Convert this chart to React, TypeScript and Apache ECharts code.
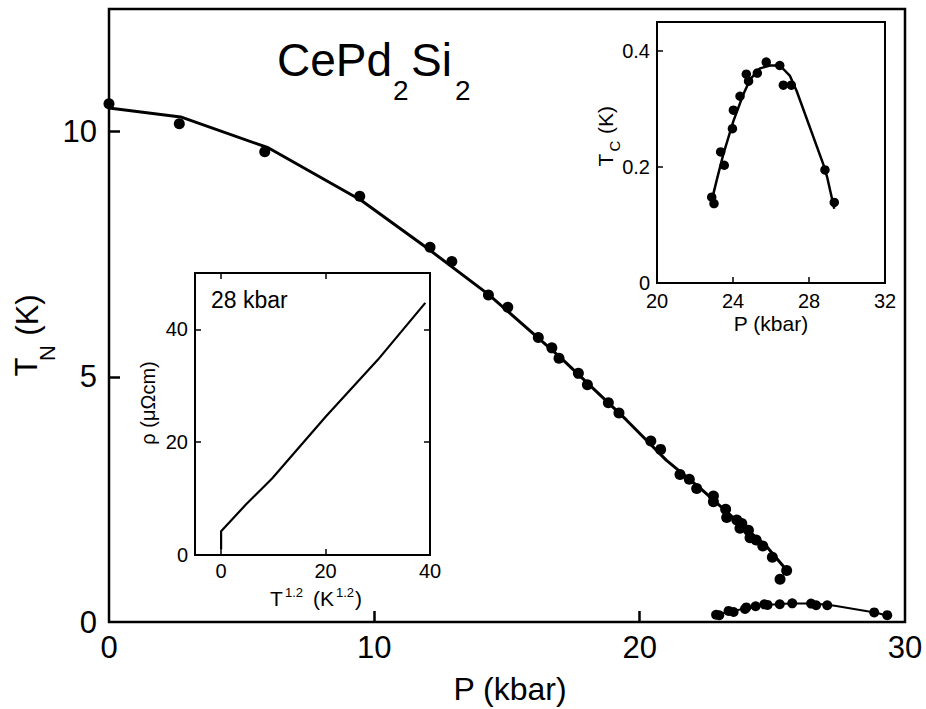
import React, { useEffect, useRef } from "react";
import * as echarts from "echarts";

// Main panel: Neel temperature T_N vs pressure
const mainP = [0, 2.65, 5.87, 9.45, 12.1, 12.92, 14.3, 15.03, 16.18, 16.69, 16.96, 17.69, 18.03, 18.82, 19.22, 20.42, 20.79, 21.52, 21.87, 22.15, 22.78, 22.78, 23.24, 23.28, 23.66, 23.85, 23.78, 24.1, 24.16, 24.39, 24.64, 25.0, 25.54, 25.29];
const mainTN = [10.57, 10.16, 9.59, 8.68, 7.64, 7.35, 6.67, 6.42, 5.8, 5.59, 5.38, 5.07, 4.84, 4.47, 4.26, 3.69, 3.52, 3.01, 2.91, 2.72, 2.57, 2.45, 2.3, 2.13, 2.08, 2.01, 1.91, 1.87, 1.72, 1.67, 1.55, 1.32, 1.05, 0.87];
const fitTNP = [0, 2.7, 6.0, 9.5, 12.0, 14.3, 17.0, 19.5, 21.0, 22.3, 23.5, 24.8, 25.55];
const fitTN = [10.48, 10.3, 9.67, 8.6, 7.62, 6.68, 5.4, 4.12, 3.3, 2.72, 2.14, 1.53, 1.05];

// Superconducting Tc vs pressure (inset and main)
const tcP = [22.88, 23.0, 23.35, 23.54, 23.97, 24.02, 24.37, 24.7, 24.82, 25.28, 25.75, 26.46, 26.65, 27.07, 28.84, 29.33];
const tcK = [0.148, 0.137, 0.226, 0.203, 0.266, 0.298, 0.322, 0.36, 0.348, 0.362, 0.381, 0.375, 0.341, 0.341, 0.195, 0.139];
const fitTcP = [22.88, 23.14, 23.49, 24.02, 24.54, 24.9, 25.42, 25.95, 26.47, 27.0, 27.35, 28.75, 28.96, 29.33];
const fitTc = [0.142, 0.177, 0.222, 0.279, 0.325, 0.351, 0.37, 0.375, 0.375, 0.357, 0.331, 0.205, 0.182, 0.128];

// Resistivity inset at 28 kbar
const rhoT12 = [0, 0, 0.8, 4.7, 9.8, 20.1, 30.0, 39.1];
const rhoVal = [1, 4.2, 5.0, 8.9, 13.6, 24.6, 34.6, 44.7];

// Tick values
const mainXTicks = [10, 20];
const mainXLabels = [0, 10, 20, 30];
const mainYTicks = [5, 10];
const mainYLabels = [0, 5, 10];
const tcXTicks = [24, 28];
const tcXLabels = [20, 24, 28, 32];
const tcYTicks = [0.2, 0.4];
const tcYLabels = [0, 0.2, 0.4];
const rhoXTicks = [0, 20];
const rhoXLabels = [0, 20, 40];
const rhoYTicks = [20, 40];
const rhoYLabels = [0, 20, 40];

const FONT = "'Liberation Sans', Arial, Helvetica, sans-serif";

const zip = (a: number[], b: number[]) => a.map((v, i) => [v, b[i]]);

function axis(
  gridIndex: number,
  min: number,
  max: number,
  ticks: number[],
  labels: number[] | null,
  fontSize: number,
  margin: number,
  tickLen: number,
  tickW: number,
  position?: string
) {
  return {
    type: "value",
    gridIndex,
    min,
    max,
    position,
    axisLine: { show: false, onZero: false },
    splitLine: { show: false },
    axisTick: {
      show: true,
      inside: true,
      length: tickLen,
      customValues: ticks,
      lineStyle: { color: "#000", width: tickW },
    },
    axisLabel: labels
      ? {
          show: true,
          customValues: labels,
          fontSize,
          fontFamily: FONT,
          color: "#000",
          margin,
        }
      : { show: false },
  };
}

function txt(
  text: string,
  x: number,
  y: number,
  fontSize: number,
  align: string = "center",
  rotate = false
) {
  return {
    type: "text",
    x,
    y,
    rotation: rotate ? Math.PI / 2 : 0,
    z: 100,
    style: {
      text,
      fontSize,
      fontFamily: FONT,
      fill: "#000",
      align,
      verticalAlign: "middle",
      textAlign: align,
      textVerticalAlign: "middle",
    },
  };
}

export default function App() {
  const ref = useRef<HTMLDivElement>(null);
  useEffect(() => {
    if (!ref.current) return;
    const chart = echarts.init(ref.current, undefined, { renderer: "svg" });
    const dot = { color: "#000", opacity: 1 };
    const option = {
      animation: false,
      backgroundColor: "#fff",
      grid: [
        { left: 109, top: 9, width: 796, height: 613, show: true, borderColor: "#000", borderWidth: 2.5, backgroundColor: "transparent" },
        { left: 657, top: 22, width: 228, height: 261, show: true, borderColor: "#000", borderWidth: 2, backgroundColor: "#fff" },
        { left: 195, top: 273, width: 235, height: 282, show: true, borderColor: "#000", borderWidth: 2, backgroundColor: "#fff" },
      ],
      xAxis: [
        axis(0, 0, 30, mainXTicks, mainXLabels, 31, 10, 11, 2.5, "bottom"),
        axis(1, 20, 32, tcXTicks, tcXLabels, 20, 8, 6, 1.5, "bottom"),
        axis(2, -5, 40, rhoXTicks, rhoXLabels, 20, 6, 6, 1.5, "bottom"),
        axis(2, -5, 40, rhoXTicks, null, 20, 6, 6, 1.5, "top"),
      ],
      yAxis: [
        axis(0, 0, 12.5, mainYTicks, mainYLabels, 31, 12, 11, 2.5, "left"),
        axis(1, 0, 0.45, tcYTicks, tcYLabels, 20, 7, 6, 1.5, "left"),
        axis(2, 0, 50, rhoYTicks, rhoYLabels, 20, 7, 6, 1.5, "left"),
        axis(2, 0, 50, rhoYTicks, null, 20, 7, 6, 1.5, "right"),
      ],
      series: [
        {
          type: "line",
          xAxisIndex: 0,
          yAxisIndex: 0,
          data: zip(fitTNP, fitTN),
          showSymbol: false,
          lineStyle: { color: "#000", width: 3 },
          z: 3,
        },
        {
          type: "scatter",
          xAxisIndex: 0,
          yAxisIndex: 0,
          data: zip(mainP, mainTN),
          symbol: "circle",
          symbolSize: 11,
          itemStyle: dot,
          z: 4,
        },
        {
          type: "line",
          xAxisIndex: 0,
          yAxisIndex: 0,
          data: zip(fitTcP, fitTc),
          showSymbol: false,
          lineStyle: { color: "#000", width: 2 },
          z: 3,
        },
        {
          type: "scatter",
          xAxisIndex: 0,
          yAxisIndex: 0,
          data: zip(tcP, tcK),
          symbol: "circle",
          symbolSize: 10,
          itemStyle: dot,
          z: 4,
        },
        {
          type: "line",
          xAxisIndex: 1,
          yAxisIndex: 1,
          data: zip(fitTcP, fitTc),
          showSymbol: false,
          lineStyle: { color: "#000", width: 2.5 },
          z: 3,
        },
        {
          type: "scatter",
          xAxisIndex: 1,
          yAxisIndex: 1,
          data: zip(tcP, tcK),
          symbol: "circle",
          symbolSize: 9.5,
          itemStyle: dot,
          z: 4,
        },
        {
          type: "line",
          xAxisIndex: 2,
          yAxisIndex: 2,
          data: zip(rhoT12, rhoVal),
          showSymbol: false,
          lineStyle: { color: "#000", width: 2.2 },
          z: 3,
        },
      ],
      graphic: {
        elements: [
          // title CePd2Si2
          txt("CePd", 277, 60, 46, "left"),
          txt("2", 393, 90, 28, "left"),
          txt("Si", 411, 60, 46, "left"),
          txt("2", 455, 90, 28, "left"),
          // main axis names
          txt("P (kbar)", 510, 689, 32, "center"),
          txt("T", 26, 367, 31, "center", true),
          txt("N", 47, 353, 22, "center", true),
          txt("(K)", 27, 315, 31, "center", true),
          // inset Tc
          txt("P (kbar)", 771, 323, 21, "center"),
          txt("T", 605, 160, 21, "center", true),
          txt("C", 614, 146, 15, "center", true),
          txt("(K)", 605, 120, 21, "center", true),
          // inset rho
          txt("28 kbar", 211, 300, 23, "left"),
          txt("ρ (μΩcm)", 148, 403, 20, "center", true),
          txt("T", 270, 598, 21, "left"),
          txt("1.2", 285, 592, 13, "left"),
          txt("(K", 313, 598, 21, "left"),
          txt("1.2", 336, 592, 13, "left"),
          txt(")", 355, 598, 21, "left"),
        ],
      },
    };
    chart.setOption(option as any);
    return () => chart.dispose();
  }, []);
  return (
    <div
      ref={ref}
      style={{ position: "absolute", left: 0, top: 0, width: 926, height: 709 }}
    />
  );
}
